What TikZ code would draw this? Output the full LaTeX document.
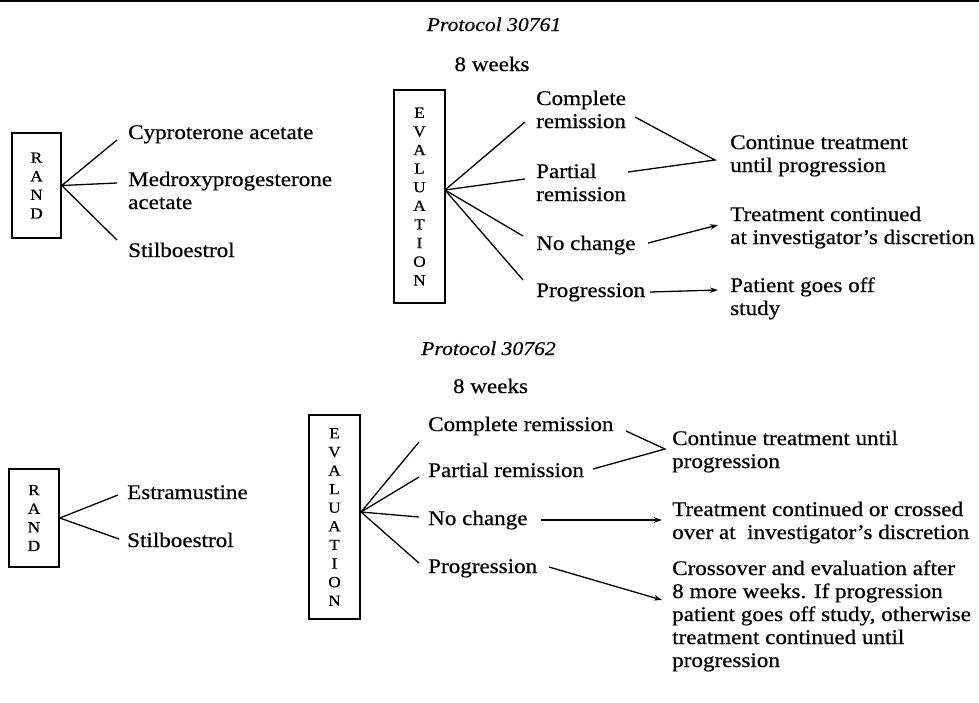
\documentclass[tikz,border=0pt]{standalone}
\usepackage{fontspec}
\setmainfont[FakeStretch=1.11,FakeBold=0.5]{Liberation Serif}
\usetikzlibrary{arrows.meta}
\begin{document}
\begin{tikzpicture}[x=1pt,y=-1pt,
  lbl/.style={font=\fontsize{20.8}{23}\selectfont, inner sep=0pt, anchor=base west, align=left},
  ttl/.style={font=\fontsize{19.5}{23}\selectfont\itshape, inner sep=0pt, anchor=base},
  wks/.style={font=\fontsize{20.8}{23}\selectfont, inner sep=0pt, anchor=base},
  vbox/.style={draw, line width=1.5pt, inner sep=0pt, align=center, font=\fontsize{15.5}{18.6}\selectfont},
  conn/.style={line width=1.3pt},
  arr/.style={conn, -{Stealth[length=8pt,width=5.5pt]}},
  rule/.style={line width=2pt}]
\useasboundingbox (0,0) rectangle (979,702);
\coordinate (rl) at (0,1);
\coordinate (rr) at (979,1);
\draw[rule] (rl) -- (rr);

% ---------- Protocol 30761 ----------
\node[ttl] (t1) at (494,31) {Protocol 30761};
\node[wks] (w1) at (492,71) {8 weeks};

\node[vbox, minimum width=49, minimum height=105] (rand1) at (36.5,185.5) {R\\A\\N\\D};
\node[lbl] (cyp) at (128,139) {Cyproterone acetate};
\node[lbl] (med) at (128,209) {Medroxyprogesterone\\acetate};
\node[lbl] (sti1) at (128,257) {Stilboestrol};
\coordinate (a1) at (117,140);
\coordinate (a2) at (117,183);
\coordinate (a3) at (117,240);
\draw[conn] (rand1.east) -- (a1);
\draw[conn] (rand1.east) -- (a2);
\draw[conn] (rand1.east) -- (a3);

\node[vbox, minimum width=51, minimum height=213] (eval1) at (419.5,196.5) {E\\V\\A\\L\\U\\A\\T\\I\\O\\N};
\coordinate (f1) at (445,190);
\node[lbl] (cr1) at (536,128) {Complete\\remission};
\node[lbl] (pr1) at (536,201) {Partial\\remission};
\node[lbl] (nc1) at (536,250) {No change};
\node[lbl] (pg1) at (536,297) {Progression};
\coordinate (b1) at (525,122);
\coordinate (b2) at (525,179);
\coordinate (b3) at (523,236);
\coordinate (b4) at (523,280);
\draw[conn] (f1) -- (b1);
\draw[conn] (f1) -- (b2);
\draw[conn] (f1) -- (b3);
\draw[conn] (f1) -- (b4);

\node[lbl] (ct1) at (730,172) {Continue treatment\\until progression};
\node[lbl] (tc1) at (730,244) {Treatment continued\\at investigator’s discretion};
\node[lbl] (po1) at (730,315) {Patient goes off\\study};
\coordinate (c1) at (635,117);
\coordinate (c2) at (628,172);
\coordinate (ap1) at (715,160);
\coordinate (c3) at (648,243);
\coordinate (c3e) at (718,225);
\coordinate (c4) at (650,292);
\coordinate (c4e) at (718,290);
\draw[conn] (c1) -- (ap1) -- (c2);
\draw[arr] (c3) -- (c3e);
\draw[arr] (c4) -- (c4e);

% ---------- Protocol 30762 ----------
\node[ttl] (t2) at (488.5,355) {Protocol 30762};
\node[wks] (w2) at (490.5,393) {8 weeks};

\node[vbox, minimum width=50, minimum height=98] (rand2) at (34,518) {R\\A\\N\\D};
\node[lbl] (est) at (127,499) {Estramustine};
\node[lbl] (sti2) at (127,547) {Stilboestrol};
\coordinate (d1) at (118,495);
\coordinate (d2) at (119,539);
\draw[conn] (rand2.east) -- (d1);
\draw[conn] (rand2.east) -- (d2);

\node[vbox, minimum width=51, minimum height=204] (eval2) at (334.5,517) {E\\V\\A\\L\\U\\A\\T\\I\\O\\N};
\coordinate (f2) at (361,512);
\node[lbl] (cr2) at (428,431) {Complete remission};
\node[lbl] (pr2) at (428,477) {Partial remission};
\node[lbl] (nc2) at (428,525) {No change};
\node[lbl] (pg2) at (428,573) {Progression};
\coordinate (e1) at (419,442);
\coordinate (e2) at (419,477);
\coordinate (e3) at (419,517);
\coordinate (e4) at (419,563);
\draw[conn] (f2) -- (e1);
\draw[conn] (f2) -- (e2);
\draw[conn] (f2) -- (e3);
\draw[conn] (f2) -- (e4);

\node[lbl] (ct2) at (672,468) {Continue treatment until\\progression};
\node[lbl] (tc2) at (672,539) {Treatment continued or crossed\\over at\ \ investigator’s discretion};
\node[lbl] (co2) at (672,667) {Crossover and evaluation after\\8 more weeks. If progression\\patient goes off study, otherwise\\treatment continued until\\progression};
\coordinate (g1) at (626,431);
\coordinate (g2) at (593,469);
\coordinate (ap2) at (665,449);
\coordinate (g3) at (541,520);
\coordinate (g3e) at (662,520);
\coordinate (g4) at (549,567);
\coordinate (g4e) at (662,600);
\draw[conn] (g1) -- (ap2) -- (g2);
\draw[arr] (g3) -- (g3e);
\draw[arr] (g4) -- (g4e);
\end{tikzpicture}
\end{document}
